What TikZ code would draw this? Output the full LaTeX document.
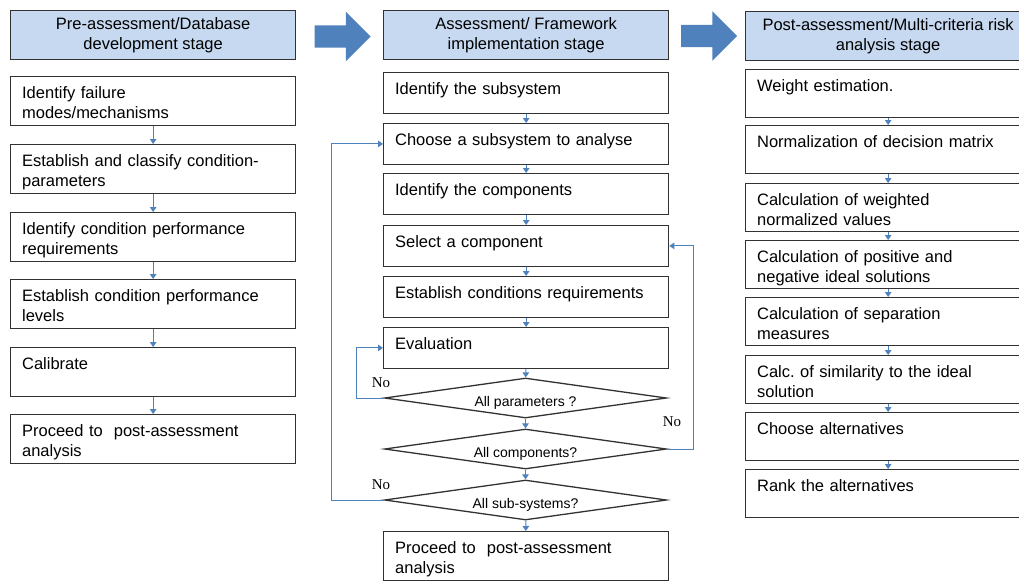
\documentclass[tikz,border=0pt]{standalone}
\usepackage{fontspec}
\setmainfont{Liberation Sans}
\newfontfamily\serifno{Liberation Serif}
\usetikzlibrary{arrows.meta,positioning,shapes.geometric,shapes.arrows}
\definecolor{hdfill}{RGB}{198,217,241}
\definecolor{flowB}{RGB}{79,129,189}
\definecolor{edge}{RGB}{50,50,50}

\begin{document}
\begin{tikzpicture}[x=1pt, y=-1pt, font=\fontsize{16.5}{20}\selectfont,
  >={Triangle[length=5pt,width=6.5pt]},
  hd/.style={rectangle, draw=edge, fill=hdfill, line width=1.3pt, align=center,
             minimum width=285pt, minimum height=49pt, inner sep=0pt, anchor=north west},
  bx/.style={rectangle, draw=edge, line width=1.3pt, anchor=north west, text width=262pt,
             align=left, inner xsep=11.5pt, inner ysep=9pt, text height=13pt, text depth=#1},
  bx/.default=18pt,
  dec/.style={diamond, draw=edge, line width=1.3pt, aspect=7, inner sep=0pt,
              minimum width=282pt, minimum height=40pt, text height=16pt, text depth=0pt,
              font=\fontsize{14}{16}\selectfont},
  bigarr/.style={single arrow, fill=flowB, draw=none, inner xsep=0pt, inner ysep=11pt,
                 minimum height=56pt, single arrow head extend=13.5pt, single arrow head indent=0pt},
  flow/.style={->, draw=flowB, line width=1pt},
  no/.style={font=\serifno\fontsize{15}{17}\selectfont}]
  \path[use as bounding box, clip] (0,0) rectangle (1019,582);

  % pre-assessment column
  \node[hd] (pre) at (10,10) {Pre-assessment/Database\\development stage};
  \node[bx] (p1) at (10,76) {Identify failure\\modes/mechanisms};
  \node[bx] (p2) at (10,144) {Establish and classify condition-\\parameters};
  \node[bx] (p3) at (10,212) {Identify condition performance\\requirements};
  \node[bx] (p4) at (10,279) {Establish condition performance\\levels};
  \node[bx] (p5) at (10,347) {Calibrate};
  \node[bx] (p6) at (10,414) {Proceed to\ \ post-assessment\\analysis};
  \draw[flow] (p1)--(p2); \draw[flow] (p2)--(p3); \draw[flow] (p3)--(p4);
  \draw[flow] (p4)--(p5); \draw[flow] (p5)--(p6);

  % assessment column
  \node[bigarr] (g1) at (337,36.5) {};
  \node[hd] (ahd) at (383,10) {Assessment/ Framework\\implementation stage};
  \node[bx=9.5pt] (a1) at (383,72) {Identify the subsystem};
  \node[bx=9.5pt] (a2) at (383,123) {Choose a subsystem to analyse};
  \node[bx=9.5pt] (a3) at (383,173) {Identify the components};
  \node[bx=9.5pt] (a4) at (383,225) {Select a component};
  \node[bx=9.5pt] (a5) at (383,276) {Establish conditions requirements};
  \node[bx=9.5pt] (a6) at (383,327) {Evaluation};
  \node[dec] (q1) at (525.5,398) {All parameters ?};
  \node[dec] (q2) at (525.5,449) {All components?};
  \node[dec] (q3) at (525.5,500) {All sub-systems?};
  \node[bx] (a7) at (383,531) {Proceed to\ \ post-assessment\\analysis};
  \draw[flow] (a1)--(a2); \draw[flow] (a2)--(a3); \draw[flow] (a3)--(a4);
  \draw[flow] (a4)--(a5); \draw[flow] (a5)--(a6); \draw[flow] (a6)--(q1);
  \draw[flow] (q1)--(q2); \draw[flow] (q2)--(q3); \draw[flow] (q3)--(a7);
  \draw[flow] (q1.west) -- ++(-27,0) |- (a6.west);
  \draw[flow] (q2.east) -- ++(26,0) |- (a4.east);
  \draw[flow] (q3.west) -- ++(-52,0) |- (a2.west);
  \node[no] (no1) at (381,383) {No};
  \node[no] (no2) at (672,422) {No};
  \node[no] (no3) at (381,485) {No};

  % post-assessment column
  \node[bigarr] (g2) at (703.5,36) {};
  \node[hd] (post) at (745,11) {Post-assessment/Multi-criteria risk\\analysis stage};
  \node[bx=17pt] (r1) at (745,69) {Weight estimation.};
  \node[bx=17pt] (r2) at (745,125) {Normalization of decision matrix};
  \node[bx=17pt] (r3) at (745,183) {Calculation of weighted\\normalized values};
  \node[bx=17pt] (r4) at (745,240) {Calculation of positive and\\negative ideal solutions};
  \node[bx=17pt] (r5) at (745,297) {Calculation of separation\\measures};
  \node[bx=17pt] (r6) at (745,355) {Calc.\ of similarity to the ideal\\solution};
  \node[bx=17pt] (r7) at (745,412) {Choose alternatives};
  \node[bx=17pt] (r8) at (745,469) {Rank the alternatives};
  \draw[flow] (r1)--(r2); \draw[flow] (r2)--(r3); \draw[flow] (r3)--(r4);
  \draw[flow] (r4)--(r5); \draw[flow] (r5)--(r6); \draw[flow] (r6)--(r7);
  \draw[flow] (r7)--(r8);
\end{tikzpicture}
\end{document}
